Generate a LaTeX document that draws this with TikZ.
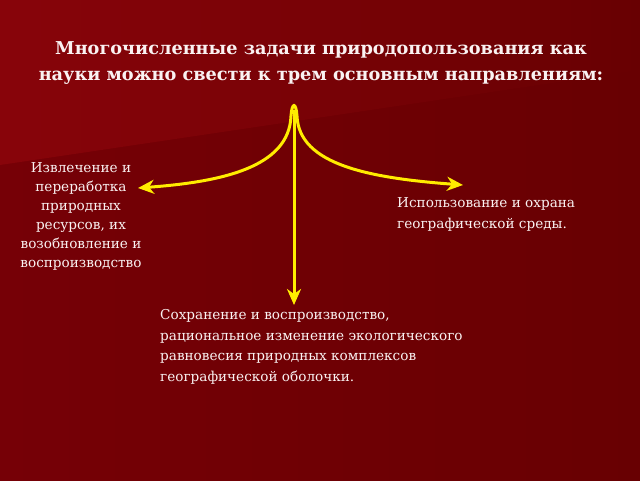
\documentclass[tikz,border=0pt]{standalone}
\usepackage{fontspec}
\setmainfont{DejaVu Serif}
\usetikzlibrary{arrows.meta}
\definecolor{bgleft}{RGB}{118,0,6}
\definecolor{bgright}{RGB}{104,0,2}
\definecolor{bglight}{RGB}{136,4,10}
\definecolor{arrowyellow}{RGB}{255,236,0}
\definecolor{textwhite}{RGB}{250,242,242}
\tikzset{
    branch/.style={line width=3pt,arrowyellow,
        arrows={-Stealth[length=16pt,width=14pt,inset=5pt]}},
    label text/.style={textwhite,inner sep=0pt,font=\fontsize{13.6}{19}\selectfont},
}

\begin{document}
\begin{tikzpicture}[x=1pt,y=-1pt]
    \useasboundingbox (0,0) rectangle (640,480);
    \shade[left color=bgleft,right color=bgright] (0,0) rectangle (640,480);
    \shade[left color=bglight,right color=bgright]
        (0,0) -- (640,0) -- (640,70) -- (0,165) -- cycle;
    \coordinate (top) at (294,110);
    \coordinate (L) at (138,188);
    \coordinate (R) at (463,185);
    \coordinate (D) at (294,305);
    \node[textwhite,inner sep=0pt,align=center,
        font=\bfseries\fontsize{17.7}{26}\selectfont] (title) at (321,63)
        {Многочисленные задачи природопользования как\\
         науки можно свести к трем основным направлениям:};
    \node[label text,align=center] (extract) at (81,216)
        {Извлечение и\\переработка\\природных\\ресурсов, их\\возобновление и\\воспроизводство};
    \node[label text,align=left,anchor=west,font=\fontsize{13.6}{21}\selectfont] (protect) at (397,214)
        {Использование и охрана\\географической среды.};
    \node[label text,align=left,anchor=west,font=\fontsize{13.6}{20.5}\selectfont] (preserve) at (160,347)
        {Сохранение и воспроизводство,\\рациональное изменение экологического\\равновесия природных комплексов\\географической оболочки.};
    \draw[branch,arrows={Stealth[length=16pt,width=14pt,inset=5pt]-Stealth[length=16pt,width=14pt,inset=5pt]}]
        (L) .. controls (220,182) and (289,168) .. (291,116)
        .. controls (292,102) and (296,102) .. (297,116)
        .. controls (299,165) and (370,178) .. (R);
    \draw[branch] (top) -- (D);
\end{tikzpicture}
\end{document}
